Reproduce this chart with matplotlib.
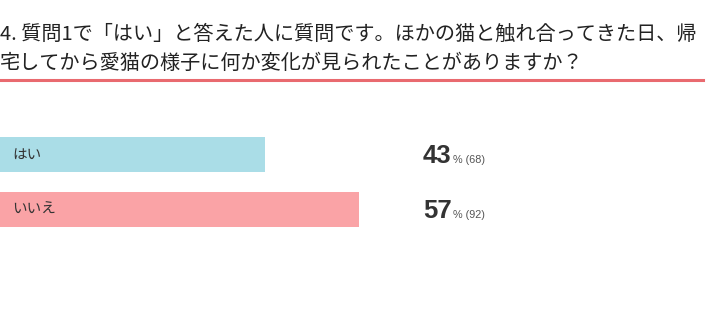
import matplotlib.pyplot as plt
from matplotlib.lines import Line2D

plt.rcParams['font.family'] = ['Noto Sans CJK JP', 'DejaVu Sans']

title = "4. 質問1で「はい」と答えた人に質問です。ほかの猫と触れ合ってきた日、帰\n宅してから愛猫の様子に何か変化が見られたことがありますか？"
labels = ["はい", "いいえ"]
percents = [43, 57]
counts = [68, 92]
colors = ["#aadde7", "#faa3a6"]

total = sum(counts)
shares = [c / total * 100 for c in counts]

fig = plt.figure(figsize=(7.1, 3.32), dpi=100)

# title and red underline
fig.text(0.0, 1 - 49 / 332, title, fontsize=14.5, color="#222222",
         ha="left", va="center", linespacing=1.55)
fig.add_artist(Line2D([0, 703 / 710], [1 - 80 / 332] * 2, color="#e96a6f", lw=2.2))

# bar area
ax = fig.add_axes([0, 1 - 237 / 332, 624 / 710, 110 / 332])
ax.barh(range(len(labels)), shares, height=0.64, color=colors)
ax.set_xlim(0, 100)
ax.set_ylim(1.5, -0.5)
ax.axis("off")

for i, (lab, p, c) in enumerate(zip(labels, percents, counts)):
    ax.text(1.9, i - 0.02, lab, fontsize=10.5, color="#333333",
            va="center_baseline", ha="left")
    t = ax.text(67.8, i + 0.15, str(p), fontsize=18.5, fontweight="bold",
                family=["Liberation Sans"], color="#333333", va="baseline", ha="left")
    ax.annotate(f"% ({c})", xy=(1, i + 0.15), xycoords=(t, "data"),
                xytext=(1.0, 0), textcoords="offset points",
                fontsize=7.8, family=["Liberation Sans"], color="#555555",
                va="baseline", ha="left", annotation_clip=False)

fig.savefig("out.png", dpi=100)
